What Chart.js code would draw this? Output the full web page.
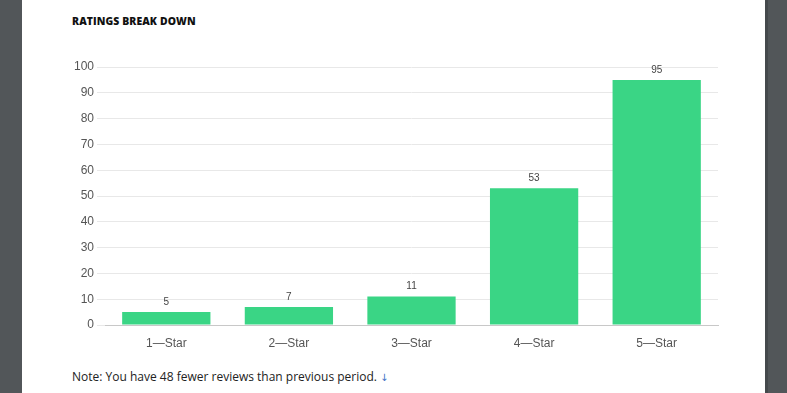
<!DOCTYPE html>
<html>
<head>
<meta charset="utf-8">
<script src="https://cdn.jsdelivr.net/npm/chart.js@4.4.0/dist/chart.umd.min.js"></script>
<style>
  html, body { margin: 0; padding: 0; width: 787px; height: 393px; overflow: hidden; background: #525659; }
  .page { position: absolute; left: 22px; top: 0; width: 743px; height: 393px; background: #fff; }
  .edge { position: absolute; left: 765px; top: 0; width: 3px; height: 393px; background: #45494c; }
  .title { position: absolute; left: 50px; top: 14px; font: 800 10.4px "Open Sans", sans-serif; color: #111; letter-spacing: 0.1px; }
  .note { position: absolute; left: 50px; top: 368px; font: 12px "Open Sans", sans-serif; color: #222; }
  .note span { color: #3b6fc4; font: 10px "DejaVu Sans", sans-serif; }
  .wrap { position: absolute; left: 38px; top: 50px; width: 670px; height: 310px; }
</style>
</head>
<body>
<div class="page">
  <div class="title">RATINGS BREAK DOWN</div>
  <div class="wrap"><canvas id="ratings"></canvas></div>
  <div class="note">Note: You have 48 fewer reviews than previous period. <span>&#8595;</span></div>
</div>
<div class="edge"></div>
<script>
const categories = ['1\u2014Star', '2\u2014Star', '3\u2014Star', '4\u2014Star', '5\u2014Star'];
const reviewCounts = [5, 7, 11, 53, 95];
const yTicks = [0, 10, 20, 30, 40, 50, 60, 70, 80, 90, 100];

// draws the value above each bar
const valueLabels = {
    id: 'valueLabels',
    afterDatasetsDraw(chart) {
        const ctx = chart.ctx;
        const meta = chart.getDatasetMeta(0);
        ctx.save();
        ctx.font = '10px "Liberation Sans", Arial, sans-serif';
        ctx.fillStyle = '#444';
        ctx.textAlign = 'center';
        ctx.textBaseline = 'bottom';
        meta.data.forEach((bar, i) => {
            ctx.fillText(reviewCounts[i], bar.x, bar.y - 5);
        });
        ctx.restore();
    }
};

new Chart(document.getElementById('ratings'), {
    type: 'bar',
    data: {
        labels: categories,
        datasets: [{
            data: reviewCounts,
            backgroundColor: '#3ad585',
            borderWidth: 0
        }]
    },
    options: {
        responsive: true,
        maintainAspectRatio: false,
        animation: false,
        layout: {padding: {top: 17, right: 12, left: 0, bottom: 0}},
        plugins: {legend: {display: false}, tooltip: {enabled: false}},
        scales: {
            x: {
                grid: {display: false},
                border: {color: '#c8c8c8'},
                ticks: {color: '#555', font: {size: 12, family: '"Liberation Sans", Arial, sans-serif'}},
                afterFit(scale) { scale.height = 35; }
            },
            y: {
                min: 0,
                max: 100,
                afterBuildTicks(scale) { scale.ticks = yTicks.map(v => ({value: v})); },
                grid: {color: '#e8e8e8', tickLength: 8},
                border: {display: false},
                ticks: {color: '#555', padding: 3, font: {size: 12, family: '"Liberation Sans", Arial, sans-serif'}},
                afterFit(scale) { scale.width = 45; }
            }
        }
    },
    plugins: [valueLabels]
});
</script>
</body>
</html>
